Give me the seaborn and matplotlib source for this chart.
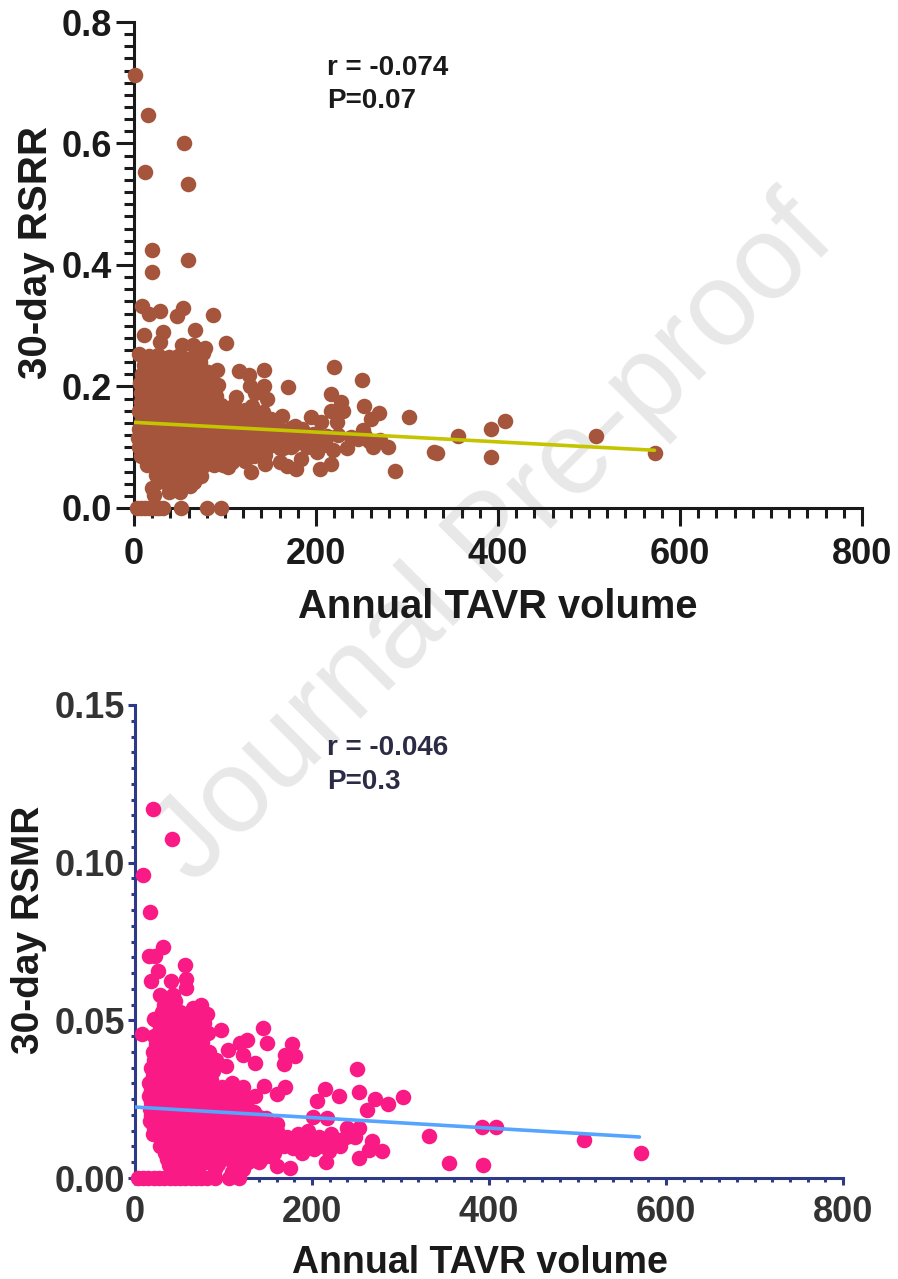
import matplotlib
matplotlib.use('Agg')
import matplotlib.pyplot as plt
import seaborn as sns
from matplotlib.ticker import MultipleLocator, FormatStrFormatter

sns.set_style('white')
plt.rcParams['font.family'] = ['Liberation Sans', 'DejaVu Sans']
plt.rcParams['font.weight'] = 'bold'

# top panel, values
rsrr_x = [
    1.5, 15, 55, 12, 59, 20, 59, 20, 9, 54, 29, 17, 47, 87, 67, 32, 11, 101, 53, 29, 78, 65, 6,
    220, 143, 115, 126, 91, 81, 251, 169, 143, 127, 92, 81, 216, 227, 112, 146, 133, 253, 269, 260, 302,
    216, 230, 194, 206, 163, 157, 223, 138, 116, 89, 333, 287, 234, 279, 263, 254, 252, 270, 219, 217,
    204, 178, 168, 160, 184, 144, 129, 122, 103, 201, 210, 197, 177, 175, 164, 151, 138,
    356, 392, 392, 330, 408, 508, 572,
    3, 8, 12, 16, 20, 24, 28, 32, 52, 80, 96,
    16, 26, 38, 48, 58, 66, 72,
    11, 20, 30, 42, 52, 62, 70,
    9, 18, 28, 36, 46, 56, 68, 74,
    7, 15, 24, 34, 44, 54, 64, 72, 84,
    8, 18, 27, 38, 48, 58, 68, 76,
    8, 16, 26, 36, 46, 56, 66, 78, 90,
    6, 14, 24, 34, 44, 54, 64, 74, 86, 98, 108,
    9, 18, 28, 38, 48, 58, 68, 80, 92, 104, 116, 128, 140, 150,
    5, 14, 24, 34, 44, 54, 64, 76, 88, 100, 112, 124, 136, 148, 160, 172, 185,
    4, 12, 22, 32, 42, 52, 62, 74, 86, 98, 110, 122, 134, 146, 158, 170, 182, 194,
    5, 14, 24, 34, 44, 54, 64, 76, 88, 100, 112, 124, 136, 148, 160, 172, 190,
    8, 18, 28, 38, 48, 58, 68, 80, 92, 104, 116,
    14, 26, 36, 46, 56, 66, 76, 88, 98,
    24, 34, 44, 54, 64, 74,
    26, 36, 46, 58, 66,
    20, 22, 38, 51, 61,
    72, 80, 78, 85, 90, 96, 105, 118, 70, 76, 74, 82, 100, 110, 122, 130, 142, 155, 120, 132, 144, 108,
    118, 130, 142, 154, 166, 178, 190, 200, 212, 224, 238, 246, 258, 128, 140, 152, 166, 180, 196, 208,
]
rsrr_y = [
    .713, .647, .601, .553, .533, .424, .408, .388, .333, .330, .324, .319, .316, .317, .293, .289, .284, .271, .268, .273, .264, .268, .254,
    .232, .227, .226, .219, .227, .224, .21, .199, .201, .2, .203, .197, .187, .175, .183, .18, .189, .168, .156, .147, .149,
    .16, .16, .149, .141, .152, .143, .141, .155, .158, .172, .091, .061, .098, .1, .101, .118, .128, .112, .095, .073,
    .065, .065, .069, .075, .081, .073, .06, .078, .067, .092, .109, .121, .135, .104, .098, .104, .098,
    .118, .130, .084, .092, .143, .118, .091,
    0, 0, 0, 0, 0, 0, 0, 0, 0, 0, 0,
    .25, .252, .248, .25, .246, .251, .249,
    .236, .234, .237, .233, .236, .234, .235,
    .22, .221, .219, .222, .22, .218, .221, .22,
    .205, .206, .204, .205, .207, .204, .205, .206, .204,
    .19, .191, .189, .19, .192, .19, .189, .191,
    .175, .176, .174, .175, .177, .175, .174, .176, .175,
    .16, .161, .159, .16, .162, .16, .159, .161, .16, .162, .159,
    .145, .146, .144, .145, .147, .145, .144, .146, .145, .147, .144, .146, .145, .147,
    .13, .131, .129, .13, .132, .13, .129, .131, .13, .132, .129, .131, .13, .132, .129, .131, .13,
    .115, .116, .114, .115, .117, .115, .114, .116, .115, .117, .114, .116, .115, .117, .114, .116, .115, .117,
    .10, .101, .099, .10, .102, .10, .099, .101, .10, .102, .099, .101, .10, .102, .099, .101, .10,
    .085, .086, .084, .085, .087, .085, .084, .086, .085, .087, .084,
    .07, .071, .069, .07, .072, .07, .069, .071, .07,
    .055, .056, .054, .055, .057, .052,
    .042, .041, .043, .04, .042,
    .033, .022, .027, .027, .036,
    .24, .222, .21, .195, .185, .17, .155, .15, .262, .255, .23, .212, .165, .17, .162, .168, .158, .138, .09, .085, .088, .075,
    .122, .124, .121, .123, .12, .122, .119, .121, .118, .12, .117, .113, .11, .108, .11, .107, .109, .108, .106, .103,
]
rsrr_fit_x = [0, 572]
rsrr_fit_y = [.141, .095]

# bottom panel
rsmr_x = [
    20, 42, 9, 17, 32, 16, 23, 56, 58, 58, 18, 41, 26, 43, 28, 75, 66, 81, 22, 51, 8, 97, 145, 126, 119, 149, 177,
    170, 181, 168, 105, 122, 136, 251, 91, 103, 83, 146, 170, 160, 215, 231, 206, 253, 271, 286, 303, 262,
    201, 217, 332, 355, 392, 408, 393, 507, 572,
    253, 249, 268, 279, 264, 253, 216, 175, 160, 140, 232, 219, 202, 189, 179, 168, 157, 240,
    3, 9, 15, 21, 27, 33, 39, 45, 51, 57, 63, 69, 75, 81, 90, 106, 118,
    33, 45,
    24, 34, 46, 60, 72,
    22, 30, 38, 50, 60, 70,
    20, 28, 38, 48, 58, 68,
    18, 26, 36, 46, 56, 66, 78,
    16, 24, 34, 44, 54, 64, 74, 86, 98, 110, 122,
    16, 22, 32, 42, 52, 62, 72, 84, 96, 108, 128, 136,
    17, 22, 30, 40, 50, 60, 70, 82, 94, 120, 135,
    17, 22, 30, 40, 50, 60, 70, 80, 90, 100, 112, 124, 136, 148, 160,
    20, 26, 36, 46, 56, 66, 76, 88, 100, 112, 124, 136, 148, 160, 172, 184, 196, 208, 222, 238,
    28, 32, 42, 52, 62, 72, 84, 96, 108, 120, 132, 144, 156, 168, 190, 208, 222,
    36, 40, 50, 60, 70, 84, 106, 118, 128, 142, 152,
    44, 56, 68, 90, 110, 122,
    30, 40, 50, 66, 76,
    28, 36, 44, 56, 66, 76,
    24, 34, 44, 54, 64, 73,
    22, 32, 42, 52, 62, 72,
    20, 30, 40, 50, 60, 70, 82,
    18, 29, 39, 49, 59, 69, 80, 92, 104, 116,
    18, 27, 37, 47, 57, 67, 78, 90, 102, 114,
    18, 25, 35, 45, 55, 65, 76, 88, 100, 112, 126, 140,
    22, 27, 37, 47, 57, 67, 78, 90, 102, 114, 126, 138, 152,
    30, 34, 44, 54, 64, 74, 86, 98, 110, 122, 134, 146, 158, 178, 192, 204, 226,
    34, 38, 48, 58, 68, 80, 94, 104, 116, 128, 140, 150,
    38, 50, 62, 74, 94, 116,
    78, 82, 76, 84, 80, 88,
]
rsmr_y = [
    .117, .1075, .096, .0845, .0734, .0705, .0705, .0675, .063, .0603, .0626, .0624, .0658, .058, .058, .055, .054, .052, .0505, .0527, .0456, .047, .0476, .0437, .0427, .0429, .0425,
    .039, .0388, .0363, .0405, .0391, .0365, .0346, .0374, .0354, .0357, .0291, .0289, .0266, .0281, .0261, .0244, .0272, .0249, .0235, .0258, .0215,
    .0193, .019, .0133, .0048, .0163, .0163, .004, .012, .008,
    .0159, .013, .0117, .0087, .009, .0065, .0051, .0031, .0037, .0051, .0102, .0085, .0091, .0079, .0096, .0102, .0079, .0159,
    0, 0, 0, 0, 0, 0, 0, 0, 0, 0, 0, 0, 0, 0, 0, 0, 0,
    .055, .056,
    .05, .051, .049, .05, .051,
    .045, .046, .044, .045, .046, .044,
    .04, .041, .039, .04, .041, .039,
    .035, .036, .034, .035, .036, .034, .035,
    .03, .031, .029, .03, .031, .029, .03, .031, .029, .03, .029,
    .026, .027, .025, .026, .027, .025, .026, .027, .025, .026, .025, .026,
    .022, .023, .021, .022, .023, .021, .022, .023, .021, .022, .021,
    .018, .019, .017, .018, .019, .017, .018, .019, .017, .018, .019, .017, .018, .019, .017,
    .014, .015, .013, .014, .015, .013, .014, .015, .013, .014, .015, .013, .014, .015, .013, .014, .015, .013, .014, .013,
    .01, .011, .009, .01, .011, .009, .01, .011, .009, .01, .011, .009, .01, .011, .009, .01, .011,
    .006, .007, .005, .006, .007, .005, .006, .007, .005, .006, .007,
    .002, .003, .002, .003, .002, .003,
    .0525, .053, .052, .0525, .052,
    .0475, .048, .047, .0475, .048, .047,
    .0425, .043, .042, .0425, .043, .042,
    .0375, .038, .037, .0375, .038, .037,
    .0325, .033, .032, .0325, .033, .032, .0325,
    .028, .0285, .0275, .028, .0285, .0275, .028, .0285, .0275, .028,
    .024, .0245, .0235, .024, .0245, .0235, .024, .0245, .0235, .024,
    .02, .0205, .0195, .02, .0205, .0195, .02, .0205, .0195, .02, .0205, .0195,
    .016, .0165, .0155, .016, .0165, .0155, .016, .0165, .0155, .016, .0165, .0155, .016,
    .012, .0125, .0115, .012, .0125, .0115, .012, .0125, .0115, .012, .0125, .0115, .012, .0125, .0115, .012, .0125,
    .008, .0085, .0075, .008, .0085, .0075, .008, .0085, .0075, .008, .0085, .0075,
    .004, .0045, .0035, .004, .0045, .0035,
    .049, .046, .043, .04, .037, .034,
]
rsmr_fit_x = [0, 570]
rsmr_fit_y = [.0225, .013]

x_ticks = [0, 200, 400, 600, 800]


def style_axis(ax, edge, label_color, ylim, y_major, y_minor, y_fmt, major_len, minor_len, x_pad, y_pad):
    ax.set_xlim(0, 800)
    ax.set_ylim(*ylim)
    ax.patch.set_alpha(0)
    sns.despine(ax=ax)
    for side in ['left', 'bottom']:
        ax.spines[side].set_color(edge)
        ax.spines[side].set_linewidth(2.2)
    ax.set_xticks(x_ticks)
    ax.xaxis.set_minor_locator(MultipleLocator(20))
    ax.yaxis.set_major_locator(MultipleLocator(y_major))
    ax.yaxis.set_minor_locator(MultipleLocator(y_minor))
    ax.yaxis.set_major_formatter(FormatStrFormatter(y_fmt))
    ax.tick_params(which='major', left=True, bottom=True, length=major_len, width=2.2, color=edge,
                   labelsize=26, labelcolor=label_color)
    ax.tick_params(which='minor', left=True, bottom=True, length=minor_len, width=2.2, color=edge)
    ax.tick_params(axis='x', which='major', pad=x_pad)
    ax.tick_params(axis='y', which='major', pad=y_pad)


fig = plt.figure(figsize=(8.98, 12.79), dpi=100)
W, H = 898, 1279

fig.text(494 / W, 1 - 542 / H, 'Journal Pre-proof', fontsize=85, fontweight='normal', color='#E8E8E8',
         rotation=45, ha='center', va='center', rotation_mode='anchor', zorder=-1)

ax1 = fig.add_axes([134 / W, 1 - 508 / H, 728 / W, 486 / H])
sns.scatterplot(x=rsrr_x, y=rsrr_y, color='#A5553B', s=125, linewidth=0, clip_on=False, zorder=3, ax=ax1)
sns.lineplot(x=rsrr_fit_x, y=rsrr_fit_y, color='#C4C400', linewidth=2.6, zorder=4, ax=ax1)
style_axis(ax1, '#1A1A1A', '#1A1A1A', (0, .8), .2, .02, '%.1f', 13, 7, 8, 3)
ax1.set_xlabel('Annual TAVR volume', fontsize=28.7, fontweight='bold', color='#1A1A1A')
ax1.xaxis.set_label_coords(.5, -.165)
ax1.set_ylabel('30-day RSRR', fontsize=29, fontweight='bold', color='#1A1A1A')
ax1.yaxis.set_label_coords(-.1085, .525)
fig.text(327 / W, 1 - 68 / H, 'r = -0.074', fontsize=20, color='#1A1A1A', va='center')
fig.text(327 / W, 1 - 101 / H, 'P=0.07', fontsize=20, color='#1A1A1A', va='center')

ax2 = fig.add_axes([135 / W, 1 - 1178 / H, 708 / W, 473 / H])
sns.scatterplot(x=rsmr_x, y=rsmr_y, color='#FA1A85', s=125, linewidth=0, clip_on=False, zorder=3, ax=ax2)
sns.lineplot(x=rsmr_fit_x, y=rsmr_fit_y, color='#55A5FF', linewidth=2.6, zorder=4, ax=ax2)
style_axis(ax2, '#2E3A87', '#333333', (0, .15), .05, .005, '%.2f', 5, 3, 7, 2)
ax2.set_xlabel('Annual TAVR volume', fontsize=27, fontweight='bold', color='#1A1A1A')
ax2.xaxis.set_label_coords(.4866, -.141)
ax2.set_ylabel('30-day RSMR', fontsize=28, fontweight='bold', color='#1A1A1A')
ax2.yaxis.set_label_coords(-.124, .524)
fig.text(327 / W, 1 - 748 / H, 'r = -0.046', fontsize=20, color='#2B2B45', va='center')
fig.text(327 / W, 1 - 782 / H, 'P=0.3', fontsize=20, color='#2B2B45', va='center')

fig.savefig('out.png', dpi=100)
